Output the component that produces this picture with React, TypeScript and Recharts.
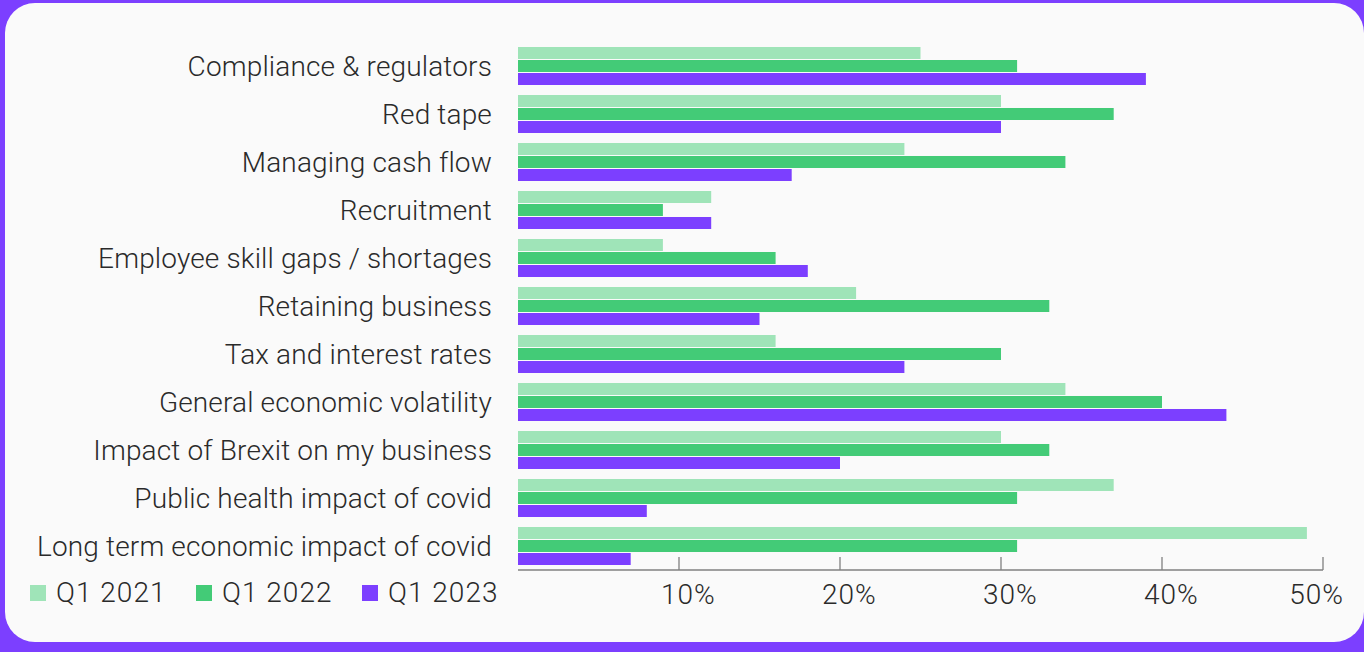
import React from "react";
import { BarChart, Bar, XAxis, YAxis } from "recharts";

const categories = [
  "Compliance & regulators",
  "Red tape",
  "Managing cash flow",
  "Recruitment",
  "Employee skill gaps / shortages",
  "Retaining business",
  "Tax and interest rates",
  "General economic volatility",
  "Impact of Brexit on my business",
  "Public health impact of covid",
  "Long term economic impact of covid",
];

const q1_2021 = [25, 30, 24, 12, 9, 21, 16, 34, 30, 37, 49];
const q1_2022 = [31, 37, 34, 9, 16, 33, 30, 40, 33, 31, 31];
const q1_2023 = [39, 30, 17, 12, 18, 15, 24, 44, 20, 8, 7];

const xTicks = [10, 20, 30, 40, 50];

const series = [
  { key: "q1_2021", name: "Q1 2021", color: "#9fe4b8" },
  { key: "q1_2022", name: "Q1 2022", color: "#43cb77" },
  { key: "q1_2023", name: "Q1 2023", color: "#7c3fff" },
];

const data = categories.map((name, i) => ({
  name,
  q1_2021: q1_2021[i],
  q1_2022: q1_2022[i],
  q1_2023: q1_2023[i],
}));

const FONT = "Roboto, 'Noto Sans', sans-serif";
const TEXT = "#2a2a2a";
const FS = 28;
const FW = 300;

function PercentTick(props: any) {
  const { x, y, payload } = props;
  const last = payload.value === xTicks[xTicks.length - 1];
  return (
    <g>
      <line x1={x} x2={x} y1={y - 13} y2={y} stroke="#808080" strokeWidth={1.3} />
      <text
        x={last ? x + 21 : x - 18}
        y={y + 34}
        textAnchor={last ? "end" : "start"}
        fill={TEXT}
        fontSize={FS}
        fontWeight={FW}
        fontFamily={FONT}
        letterSpacing={1}
      >
        {payload.value}%
      </text>
    </g>
  );
}

function LegendBox() {
  return (
    <div
      style={{
        position: "absolute",
        left: 30,
        top: 576,
        display: "flex",
        fontFamily: FONT,
        fontSize: FS,
        fontWeight: FW,
        color: TEXT,
        lineHeight: "34px",
        letterSpacing: 1,
      }}
    >
      {series.map((s) => (
        <div key={s.key} style={{ width: 166, display: "flex", alignItems: "center" }}>
          <span style={{ width: 16, height: 16, background: s.color, marginRight: 10, display: "inline-block" }} />
          <span>{s.name}</span>
        </div>
      ))}
    </div>
  );
}

export default function App() {
  return (
    <div style={{ position: "fixed", left: 0, top: 0, width: 1364, height: 652, background: "#7c3fff" }}>
      <div
        style={{
          position: "absolute",
          left: 5,
          top: 3,
          width: 1359,
          height: 639,
          background: "#fafafa",
          borderRadius: 30,
        }}
      />
      <div style={{ position: "absolute", left: 0, top: 0 }}>
        <BarChart
          width={1364}
          height={652}
          data={data}
          layout="vertical"
          margin={{ top: 42, right: 41, bottom: 0, left: 0 }}
          barSize={12}
          barGap={1}
        >
          <XAxis
            type="number"
            domain={[0, 50]}
            ticks={xTicks}
            tick={<PercentTick />}
            tickLine={false}
            tickSize={0}
            tickMargin={0}
            axisLine={{ stroke: "#808080", strokeWidth: 1.3 }}
            height={82}
          />
          <YAxis
            type="category"
            dataKey="name"
            width={518}
            axisLine={false}
            tickLine={false}
            tickSize={0}
            tickMargin={26}
            interval={0}
            tick={{ fontSize: FS, fontWeight: FW, fill: TEXT, fontFamily: FONT, letterSpacing: 0.15 }}
          />
          {series.map((s) => (
            <Bar key={s.key} dataKey={s.key} name={s.name} fill={s.color} isAnimationActive={false} />
          ))}
        </BarChart>
      </div>
      <LegendBox />
    </div>
  );
}
